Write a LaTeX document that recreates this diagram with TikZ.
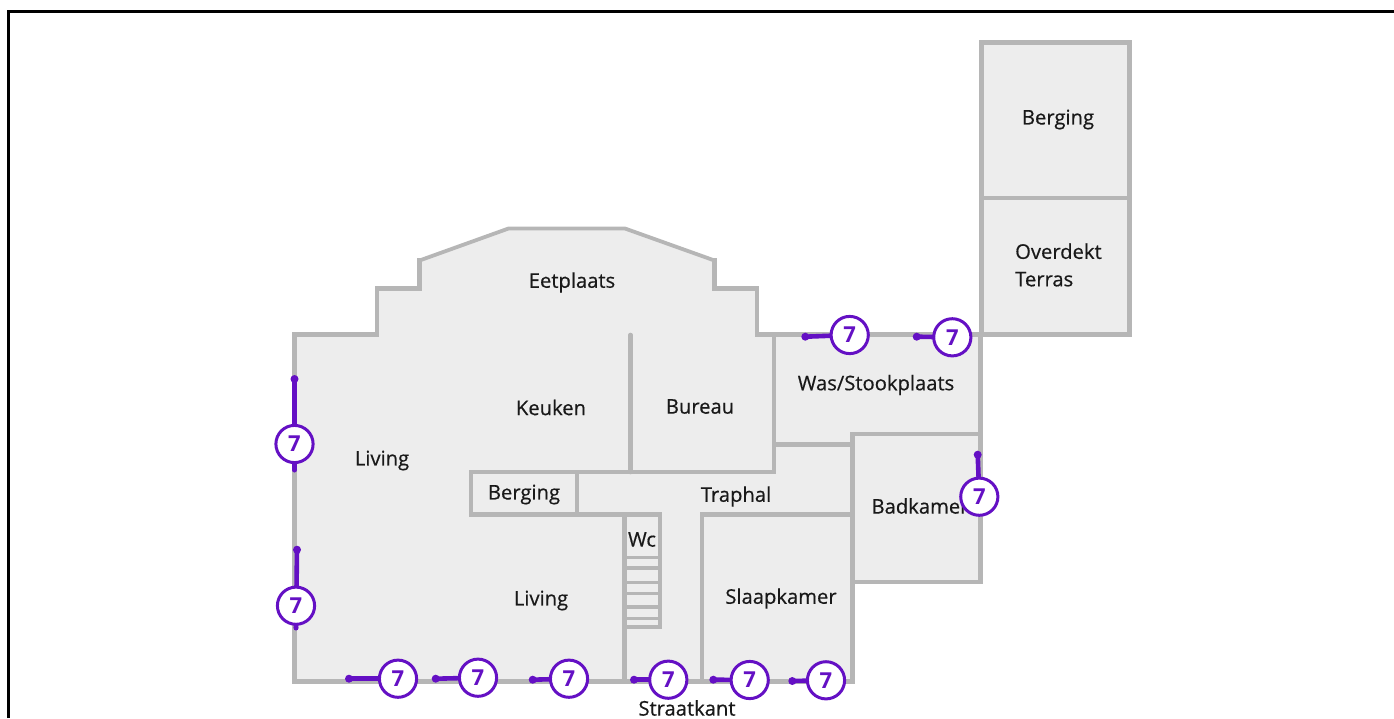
\documentclass[tikz,border=0pt]{standalone}
\usepackage{fontspec}
\setmainfont{Open Sans}
\newfontfamily\roomfont[FakeBold=0.5]{Open Sans}
\definecolor{wall}{HTML}{B6B6B6}
\definecolor{floorc}{HTML}{EDEDED}
\definecolor{pur}{HTML}{6410C4}
\tikzset{
 wallline/.style={draw=wall,line width=4.6pt,line join=miter,line cap=rect},
 slopewall/.style={draw=wall,line width=3.8pt,line join=miter},
 thinwall/.style={draw=wall,line width=3.2pt},
 roomlabel/.style={font=\roomfont\fontsize{20.2}{27.5}\selectfont,text=black!90,inner sep=0pt,align=left},
 badge/.style={circle,draw=pur,line width=3pt,fill=white,minimum size=37.2pt,inner sep=0pt,text=pur,font=\fontsize{22}{22}\selectfont\bfseries},
 tick/.style={draw=pur,line width=4.6pt},
 tickend/.style={circle,fill=pur,minimum size=8pt,inner sep=0pt},
}
% #1 id, (#2,#3) free end, (#4,#5) badge centre, (#6,#7) far end of the line behind the badge
\newcommand{\mk}[7]{%
 \coordinate (e#1) at (#2,#3);
 \coordinate (f#1) at (#6,#7);
 \node[tickend] (d#1) at (e#1) {};
 \node[tickend,minimum size=5pt] (g#1) at (f#1) {};
 \draw[tick] (d#1.center) -- (g#1.center);
 \node[badge] (b#1) at (#4,#5) {7};
}
\begin{document}
\begin{tikzpicture}[x=1pt,y=-1pt]
\useasboundingbox (0,0) rectangle (1394,718);
% frame
\draw[line width=3pt,black] (8.5,718) -- (8.5,11.5) -- (1394,11.5);
% floor
\fill[floorc] (294.5,334.5) -- (377,334.5) -- (377,288.5) -- (419.5,288.5) -- (419.5,260.5) -- (508.5,228.5) -- (625,228.5) -- (714.5,260.5) -- (714.5,288.5) -- (757,288.5) -- (757,334.5) -- (980.5,334.5) -- (980.5,582) -- (852.5,582) -- (852.5,681.5) -- (294.5,681.5) -- cycle;
\fill[floorc] (981,42.5) rectangle (1129,334);
% outer walls
\draw[wallline] (419.5,260.5) -- (419.5,288.5) -- (377,288.5) -- (377,334.5) -- (294.5,334.5) -- (294.5,681.5) -- (852.5,681.5) -- (852.5,582) -- (980.5,582) -- (980.5,334.5) -- (757,334.5) -- (757,288.5) -- (714.5,288.5) -- (714.5,260.5);
\draw[slopewall] (419.5,260.5) -- (508.5,228.5) -- (625,228.5) -- (714.5,260.5);
\draw[wallline,line width=5pt] (981,42.5) rectangle (1129,334);
\draw[wallline] (981,198) -- (1129,198);
% inner walls
\draw[wallline,line cap=round] (630.5,335) -- (630.5,472);
\draw[wallline] (471,472) -- (774,472) -- (774,335);
\draw[wallline] (774,444.5) -- (852.5,444.5);
\draw[wallline] (852.5,582) -- (852.5,434) -- (980.5,434);
\draw[wallline] (471,472) -- (471,514.5) -- (660,514.5);
\draw[wallline] (577,472) -- (577,514.5);
\draw[wallline] (624.5,514.5) -- (624.5,681.5);
\draw[wallline] (702,681.5) -- (702,514.5) -- (852.5,514.5);
\draw[wallline] (660,514.5) -- (660,627) -- (624.5,627);
\foreach \yy in {557.5,568,582.5,593.5,607,618.5}{\draw[thinwall] (624.5,\yy) -- (660,\yy);}
% labels
\node[roomlabel] (n1) at (1058,119.5) {Berging};
\node[roomlabel,anchor=west] (n2) at (1015,265) {Overdekt\\Terras};
\node[roomlabel] (n3) at (572,282.5) {Eetplaats};
\node[roomlabel] (n4) at (876,385) {Was/Stookplaats};
\node[roomlabel] (n5) at (551,407.5) {Keuken};
\node[roomlabel] (n6) at (700,406.5) {Bureau};
\node[roomlabel] (n7) at (382,460.5) {Living};
\node[roomlabel] (n8) at (524,494.5) {Berging};
\node[roomlabel] (n9) at (736,496.5) {Traphal};
\node[roomlabel] (n10) at (642,539.5) {Wc};
\node[roomlabel] (n11) at (920,506) {Badkamer};
\node[roomlabel] (n12) at (541,600.5) {Living};
\node[roomlabel] (n13) at (781,598.5) {Slaapkamer};
\node[roomlabel] (n14) at (687,708) {Straatkant};
% markers
\mk{a}{294.5}{379}{294.5}{444}{294.5}{470}
\mk{b}{297}{549.7}{296}{605.7}{296}{628}
\mk{c}{349}{678.7}{398}{678.7}{398}{678.7}
\mk{d}{435.7}{678.7}{478}{677.7}{478}{677.7}
\mk{e}{532.7}{679.7}{569}{678.7}{569}{678.7}
\mk{f}{634}{679.7}{668.3}{679.7}{668.3}{679.7}
\mk{g}{713.3}{679.7}{749.7}{680}{749.7}{680}
\mk{h}{792.3}{681}{826}{680.3}{826}{680.3}
\mk{i}{805.3}{336.7}{849.7}{335}{849.7}{335}
\mk{j}{916.7}{336.7}{952.3}{337.3}{952.3}{337.3}
\mk{k}{977.7}{454.7}{979.3}{496.7}{979.3}{496.7}
\end{tikzpicture}
\end{document}
